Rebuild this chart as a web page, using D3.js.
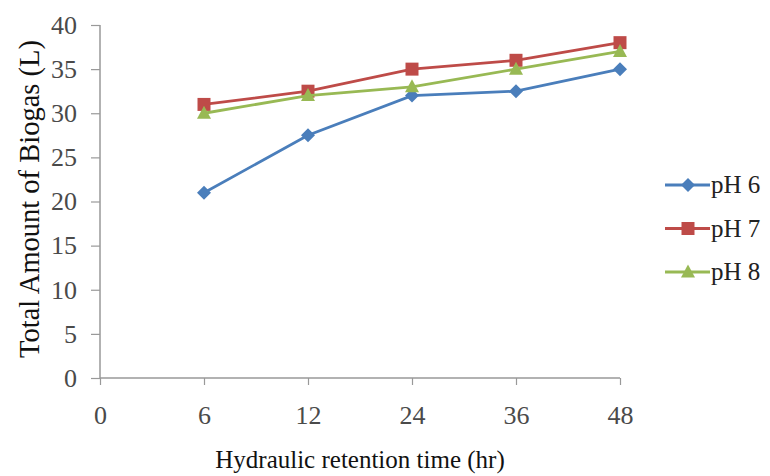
<!DOCTYPE html>
<html><head><meta charset="utf-8">
<script src="https://cdn.jsdelivr.net/npm/d3@7"></script>
<style>body{margin:0;background:#fff}svg{display:block}</style>
</head><body>
<svg id="c" width="770" height="476"></svg>
<script>
const categories = ["0","6","12","24","36","48"];
const dataCategories = ["6","12","24","36","48"];
const pH6 = [21, 27.5, 32, 32.5, 35];
const pH7 = [31, 32.5, 35, 36, 38];
const pH8 = [30, 32, 33, 35, 37];
const seriesNames = ["pH 6","pH 7","pH 8"];
const yTicks = [0,5,10,15,20,25,30,35,40];

const series = [
  {name: seriesNames[0], values: pH6, color: "#4A7EBB", marker: "diamond"},
  {name: seriesNames[1], values: pH7, color: "#BE4B48", marker: "square"},
  {name: seriesNames[2], values: pH8, color: "#98B954", marker: "triangle"}
];

const FONT = '"Liberation Serif"';
const svg = d3.select("#c");
const x = d3.scalePoint().domain(categories).range([100, 620]);
const y = d3.scaleLinear().domain([0, 40]).range([378, 25]);

// Y axis
const yAxis = svg.append("g").attr("transform", "translate(100,0)")
  .call(d3.axisLeft(y).tickValues(yTicks).tickSize(9).tickPadding(14));
yAxis.select(".domain").attr("stroke", "#999").attr("stroke-width", 1.5).attr("d", "M0,25V378");
yAxis.selectAll(".tick line").attr("stroke", "#999").attr("stroke-width", 1.2);
yAxis.selectAll(".tick text").style("font-family", FONT).style("font-size", "26px").attr("fill", "#4a4a4a");

// X axis
const xAxis = svg.append("g").attr("transform", "translate(0,378)")
  .call(d3.axisBottom(x).tickSize(7).tickPadding(21));
xAxis.select(".domain").attr("stroke", "#999").attr("stroke-width", 1.5).attr("d", "M100,0H620");
xAxis.selectAll(".tick line").attr("stroke", "#999").attr("stroke-width", 1.2);
xAxis.selectAll(".tick text").style("font-family", FONT).style("font-size", "26px").attr("fill", "#4a4a4a");

// Titles
svg.append("text").attr("x", 360).attr("y", 468).attr("text-anchor", "middle")
  .style("font-family", FONT).style("font-size", "25px").attr("fill", "#111")
  .text("Hydraulic retention time (hr)");
svg.append("text").attr("transform", "translate(39,199) rotate(-90)").attr("text-anchor", "middle")
  .style("font-family", FONT).style("font-size", "28.5px").attr("fill", "#111")
  .text("Total Amount of Biogas (L)");

function markerPath(type) {
  if (type === "diamond") return "M0,-7L7,0L0,7L-7,0Z";
  if (type === "square") return "M-6.5,-6.5H6.5V6.5H-6.5Z";
  return "M0,-7.5L7,5.5H-7Z";
}

const line = d3.line().x((d, i) => x(dataCategories[i])).y(d => y(d));
series.forEach(s => {
  svg.append("path").datum(s.values).attr("d", line)
    .attr("fill", "none").attr("stroke", s.color).attr("stroke-width", 2.8);
  svg.selectAll(null).data(s.values).enter().append("path")
    .attr("transform", (d, i) => `translate(${x(dataCategories[i])},${y(d)})`)
    .attr("d", markerPath(s.marker)).attr("fill", s.color);
});

// Legend
const lg = svg.append("g");
series.forEach((s, i) => {
  const yy = 185 + i * 43.5;
  lg.append("line").attr("x1", 665).attr("x2", 710).attr("y1", yy).attr("y2", yy)
    .attr("stroke", s.color).attr("stroke-width", 2.8);
  lg.append("path").attr("transform", `translate(688,${yy})`).attr("d", markerPath(s.marker)).attr("fill", s.color);
  lg.append("text").attr("x", 711).attr("y", yy + 8)
    .style("font-family", FONT).style("font-size", "25px").attr("fill", "#222").text(s.name);
});
</script>
</body></html>
